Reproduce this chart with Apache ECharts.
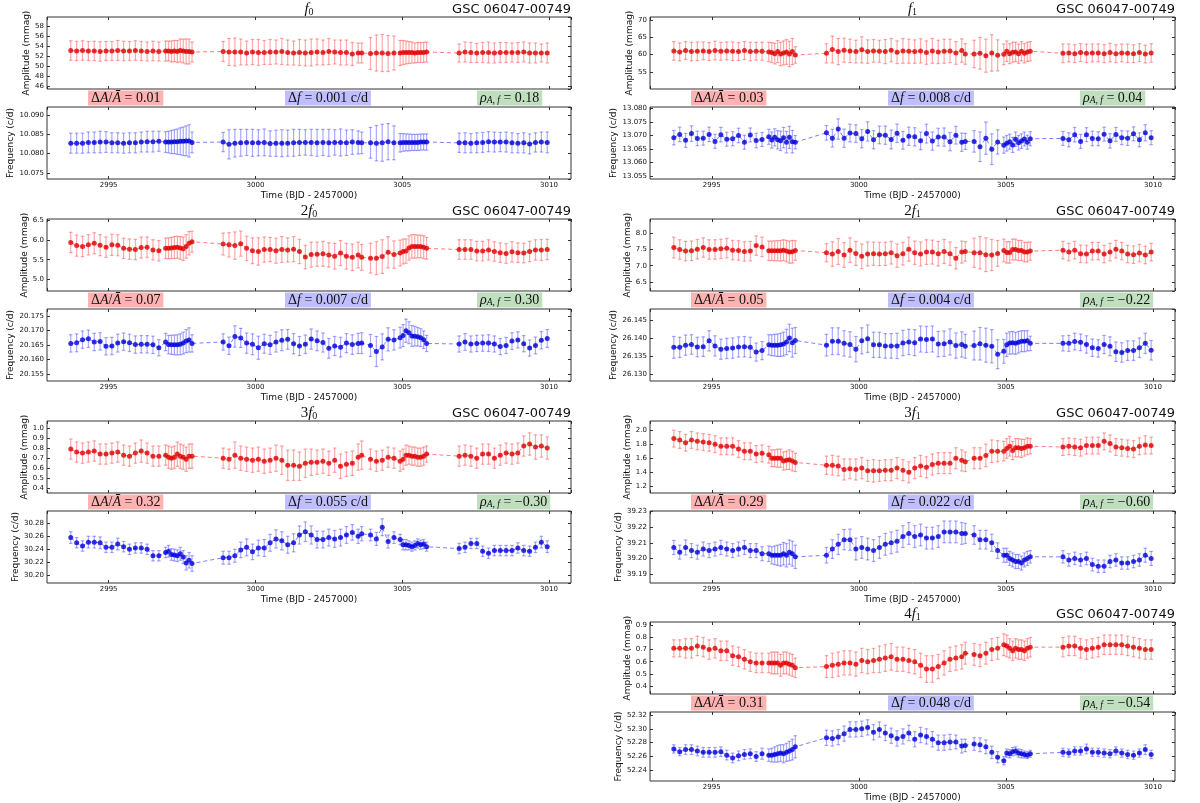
<!DOCTYPE html>
<html>
<head>
<meta charset="utf-8">
<script src="https://cdn.jsdelivr.net/npm/echarts@6/dist/echarts.min.js"></script>
<style>
  html, body { margin: 0; padding: 0; background: #fff; }
  #chart { width: 1200px; height: 803px; }
</style>
</head>
<body>
<div id="chart"></div>
<script>
// sample times (BJD - 2457000), shared by every harmonic
var times = [
  2993.71, 2993.91, 2994.11, 2994.31, 2994.51, 2994.71, 2994.91, 2995.11, 2995.31, 2995.51, 2995.71, 2995.91, 2996.11, 2996.31, 2996.51, 2996.71,
  2996.94, 2997.04, 2997.14, 2997.24, 2997.34, 2997.44, 2997.54, 2997.64, 2997.74, 2997.84,
  2998.90, 2999.10, 2999.30, 2999.50, 2999.70, 2999.90, 3000.10, 3000.30, 3000.50, 3000.70, 3000.90, 3001.10, 3001.30, 3001.50, 3001.70, 3001.90, 3002.10, 3002.30, 3002.50, 3002.70, 3002.90, 3003.10, 3003.30, 3003.50,
  3003.62,
  3003.92, 3004.12, 3004.32, 3004.52, 3004.72,
  3004.93, 3005.03, 3005.13, 3005.23, 3005.33, 3005.43, 3005.53, 3005.63, 3005.73, 3005.83,
  3006.94, 3007.14, 3007.34, 3007.54, 3007.74, 3007.94, 3008.14, 3008.34, 3008.54, 3008.74, 3008.94, 3009.14, 3009.34, 3009.54, 3009.74, 3009.94
];

// f0
var f0Amp = [
  53.1, 53.0, 53.1, 53.0, 53.0, 52.9, 53.0, 53.0, 53.1, 53.0, 53.0, 53.1, 53.0, 52.9, 53.0, 52.9,
  53.0, 53.0, 52.9, 53.0, 52.9, 53.1, 53.0, 52.9, 52.9, 52.8,
  52.9, 52.8, 52.8, 52.8, 52.6, 52.8, 52.7, 52.7, 52.8, 52.8, 52.9, 52.7, 52.6, 52.7, 52.6, 52.7, 52.8, 52.7, 52.9, 52.8, 52.7, 52.7, 52.4, 52.6,
  52.6,
  52.5, 52.6, 52.6, 52.5, 52.6,
  52.6, 52.7, 52.7, 52.7, 52.7, 52.6, 52.7, 52.7, 52.7, 52.8,
  52.6, 52.8, 52.7, 52.6, 52.7, 52.7, 52.6, 52.7, 52.7, 52.7, 52.7, 52.8, 52.6, 52.6, 52.6, 52.6
];
var f0AmpErr = [
  1.95, 1.9, 1.95, 1.9, 1.95, 1.95, 1.9, 1.9, 2.0, 1.95, 1.9, 1.95, 1.9, 1.9, 1.95, 1.9,
  2.0, 2.0, 2.1, 2.1, 2.2, 2.3, 2.4, 2.5, 2.5, 2.0,
  2.0, 2.7, 2.8, 2.6, 2.4, 2.5, 2.6, 2.4, 2.5, 2.4, 2.6, 2.5, 2.4, 2.6, 2.6, 2.7, 2.6, 2.5, 2.6, 2.4, 2.5, 2.5, 2.3, 2.0,
  2.0,
  3.2, 3.6, 3.7, 3.6, 3.4,
  2.5, 2.4, 2.3, 2.2, 2.1, 2.0, 2.0, 2.0, 2.0, 2.0,
  1.8, 2.0, 2.0, 1.9, 2.0, 2.1, 2.0, 2.0, 2.0, 1.9, 2.0, 2.0, 2.0, 2.0, 1.8, 2.0
];
var f0Freq = [
  10.0827, 10.0827, 10.0827, 10.0829, 10.0829, 10.0830, 10.0830, 10.0828, 10.0828, 10.0827, 10.0828, 10.0828, 10.0830, 10.0831, 10.0831, 10.0832,
  10.0830, 10.0830, 10.0830, 10.0831, 10.0831, 10.0832, 10.0832, 10.0833, 10.0833, 10.0829,
  10.0830, 10.0824, 10.0827, 10.0828, 10.0829, 10.0828, 10.0828, 10.0829, 10.0826, 10.0827, 10.0827, 10.0827, 10.0828, 10.0829, 10.0829, 10.0829, 10.0828, 10.0829, 10.0828, 10.0829, 10.0829, 10.0828, 10.0830, 10.0829,
  10.0828,
  10.0828, 10.0827, 10.0828, 10.0831, 10.0828,
  10.0828, 10.0829, 10.0829, 10.0829, 10.0829, 10.0829, 10.0829, 10.0830, 10.0830, 10.0830,
  10.0828, 10.0828, 10.0827, 10.0828, 10.0829, 10.0831, 10.0830, 10.0830, 10.0830, 10.0828, 10.0827, 10.0828, 10.0825, 10.0829, 10.0830, 10.0829
];
var f0FreqErr = [
  0.0026, 0.0026, 0.0026, 0.0027, 0.0027, 0.0028, 0.0027, 0.0026, 0.0026, 0.0026, 0.0026, 0.0026, 0.0026, 0.0027, 0.0027, 0.0026,
  0.0027, 0.0028, 0.0030, 0.0031, 0.0033, 0.0035, 0.0037, 0.0039, 0.0042, 0.0027,
  0.0025, 0.0038, 0.0036, 0.0035, 0.0034, 0.0035, 0.0034, 0.0035, 0.0033, 0.0034, 0.0035, 0.0034, 0.0035, 0.0034, 0.0033, 0.0034, 0.0035, 0.0034, 0.0035, 0.0033, 0.0035, 0.0033, 0.0032, 0.0030,
  0.0028,
  0.0040, 0.0046, 0.0048, 0.0047, 0.0044,
  0.0024, 0.0023, 0.0022, 0.0022, 0.0021, 0.0021, 0.0021, 0.0021, 0.0021, 0.0021,
  0.0025, 0.0026, 0.0025, 0.0026, 0.0026, 0.0026, 0.0026, 0.0025, 0.0026, 0.0026, 0.0025, 0.0026, 0.0026, 0.0025, 0.0026, 0.0027
];

// 2f0
var h2f0Amp = [
  5.94, 5.86, 5.84, 5.88, 5.92, 5.87, 5.82, 5.88, 5.87, 5.79, 5.77, 5.76, 5.81, 5.82, 5.75, 5.73,
  5.79, 5.79, 5.80, 5.81, 5.82, 5.80, 5.78, 5.84, 5.92, 5.96,
  5.90, 5.88, 5.86, 5.91, 5.79, 5.73, 5.71, 5.76, 5.76, 5.73, 5.76, 5.75, 5.77, 5.71, 5.57, 5.63, 5.64, 5.65, 5.62, 5.59, 5.67, 5.59, 5.56, 5.62,
  5.56,
  5.54, 5.54, 5.58, 5.69, 5.63,
  5.67, 5.71, 5.72, 5.80, 5.84, 5.84, 5.84, 5.84, 5.82, 5.79,
  5.76, 5.76, 5.76, 5.72, 5.72, 5.75, 5.71, 5.68, 5.66, 5.70, 5.68, 5.67, 5.71, 5.75, 5.75, 5.76
];
var h2f0AmpErr = [
  0.26, 0.27, 0.26, 0.26, 0.27, 0.27, 0.26, 0.27, 0.27, 0.26, 0.26, 0.26, 0.27, 0.26, 0.26, 0.26,
  0.26, 0.27, 0.27, 0.28, 0.28, 0.29, 0.30, 0.30, 0.30, 0.27,
  0.28, 0.31, 0.35, 0.32, 0.31, 0.33, 0.35, 0.32, 0.31, 0.32, 0.33, 0.31, 0.32, 0.31, 0.30, 0.32, 0.31, 0.32, 0.31, 0.33, 0.32, 0.33, 0.34, 0.33,
  0.33,
  0.38, 0.42, 0.43, 0.40, 0.35,
  0.33, 0.32, 0.31, 0.31, 0.30, 0.30, 0.29, 0.29, 0.29, 0.28,
  0.25, 0.25, 0.25, 0.25, 0.25, 0.26, 0.25, 0.25, 0.25, 0.26, 0.25, 0.25, 0.26, 0.26, 0.27, 0.26
];
var h2f0Freq = [
  20.1655, 20.1657, 20.1668, 20.1671, 20.1660, 20.1662, 20.1645, 20.1646, 20.1656, 20.1661, 20.1657, 20.1651, 20.1652, 20.1652, 20.1650, 20.1640,
  20.1660, 20.1651, 20.1650, 20.1650, 20.1650, 20.1652, 20.1656, 20.1663, 20.1667, 20.1655,
  20.1660, 20.1647, 20.1679, 20.1674, 20.1656, 20.1652, 20.1640, 20.1654, 20.1650, 20.1660, 20.1666, 20.1669, 20.1654, 20.1646, 20.1652, 20.1670, 20.1664, 20.1658, 20.1638, 20.1646, 20.1642, 20.1656, 20.1651, 20.1655,
  20.1656,
  20.1648, 20.1627, 20.1643, 20.1669, 20.1667,
  20.1675, 20.1682, 20.1699, 20.1692, 20.1681, 20.1680, 20.1678, 20.1675, 20.1668, 20.1655,
  20.1653, 20.1660, 20.1653, 20.1655, 20.1656, 20.1656, 20.1653, 20.1644, 20.1648, 20.1663, 20.1667, 20.1654, 20.1639, 20.1648, 20.1666, 20.1672
];
var h2f0FreqErr = [
  0.0030, 0.0031, 0.0030, 0.0030, 0.0030, 0.0030, 0.0030, 0.0030, 0.0031, 0.0030, 0.0030, 0.0030, 0.0030, 0.0030, 0.0030, 0.0028,
  0.0030, 0.0032, 0.0033, 0.0034, 0.0035, 0.0036, 0.0038, 0.0040, 0.0042, 0.0030,
  0.0028, 0.0030, 0.0037, 0.0033, 0.0035, 0.0036, 0.0040, 0.0033, 0.0033, 0.0035, 0.0036, 0.0034, 0.0035, 0.0033, 0.0032, 0.0035, 0.0034, 0.0033, 0.0034, 0.0033, 0.0034, 0.0033, 0.0034, 0.0035,
  0.0036,
  0.0038, 0.0052, 0.0045, 0.0040, 0.0035,
  0.0036, 0.0038, 0.0040, 0.0038, 0.0036, 0.0034, 0.0032, 0.0031, 0.0030, 0.0028,
  0.0028, 0.0029, 0.0028, 0.0028, 0.0028, 0.0029, 0.0028, 0.0028, 0.0028, 0.0029, 0.0028, 0.0028, 0.0028, 0.0029, 0.0030, 0.0031
];

// 3f0
var h3f0Amp = [
  0.79, 0.76, 0.75, 0.76, 0.77, 0.74, 0.74, 0.75, 0.76, 0.73, 0.72, 0.75, 0.77, 0.75, 0.72, 0.72,
  0.73, 0.71, 0.70, 0.71, 0.74, 0.72, 0.71, 0.69, 0.72, 0.72,
  0.70, 0.69, 0.73, 0.70, 0.69, 0.68, 0.69, 0.67, 0.68, 0.70, 0.68, 0.63, 0.63, 0.62, 0.65, 0.66, 0.66, 0.67, 0.65, 0.68, 0.62, 0.64, 0.65, 0.71,
  0.73,
  0.69, 0.67, 0.68, 0.71, 0.70,
  0.67, 0.69, 0.73, 0.73, 0.72, 0.72, 0.71, 0.71, 0.72, 0.74,
  0.72, 0.73, 0.72, 0.70, 0.74, 0.74, 0.70, 0.73, 0.75, 0.74, 0.75, 0.82, 0.84, 0.81, 0.82, 0.80
];
var h3f0AmpErr = [
  0.10, 0.10, 0.10, 0.10, 0.10, 0.10, 0.10, 0.10, 0.10, 0.10, 0.10, 0.10, 0.11, 0.10, 0.10, 0.10,
  0.10, 0.11, 0.11, 0.11, 0.12, 0.12, 0.12, 0.12, 0.12, 0.12,
  0.10, 0.10, 0.13, 0.12, 0.12, 0.12, 0.12, 0.12, 0.12, 0.13, 0.14, 0.15, 0.15, 0.14, 0.14, 0.13, 0.12, 0.12, 0.12, 0.12, 0.12, 0.12, 0.12, 0.13,
  0.14,
  0.10, 0.10, 0.10, 0.10, 0.10,
  0.10, 0.10, 0.10, 0.09, 0.09, 0.09, 0.09, 0.09, 0.09, 0.08,
  0.10, 0.10, 0.10, 0.10, 0.10, 0.10, 0.10, 0.10, 0.10, 0.10, 0.10, 0.10, 0.11, 0.12, 0.11, 0.11
];
var h3f0Freq = [
  30.258, 30.250, 30.245, 30.251, 30.251, 30.250, 30.243, 30.243, 30.248, 30.244, 30.240, 30.242, 30.242, 30.240, 30.230, 30.230,
  30.235, 30.237, 30.232, 30.231, 30.230, 30.233, 30.228, 30.219, 30.223, 30.218,
  30.227, 30.227, 30.230, 30.239, 30.243, 30.236, 30.242, 30.242, 30.250, 30.256, 30.253, 30.247, 30.250, 30.262, 30.267, 30.262, 30.255, 30.255, 30.258, 30.256, 30.258, 30.262, 30.266, 30.260,
  30.264,
  30.262, 30.256, 30.274, 30.252, 30.258,
  30.255, 30.247, 30.247, 30.246, 30.244, 30.246, 30.249, 30.247, 30.248, 30.244,
  30.241, 30.243, 30.249, 30.249, 30.237, 30.234, 30.238, 30.238, 30.238, 30.238, 30.242, 30.238, 30.237, 30.243, 30.251, 30.244
];
var h3f0FreqErr = [
  0.009, 0.008, 0.008, 0.009, 0.009, 0.009, 0.008, 0.008, 0.009, 0.008, 0.008, 0.008, 0.008, 0.008, 0.008, 0.008,
  0.008, 0.009, 0.009, 0.009, 0.009, 0.010, 0.010, 0.011, 0.012, 0.012,
  0.010, 0.010, 0.010, 0.012, 0.013, 0.012, 0.012, 0.013, 0.013, 0.014, 0.014, 0.013, 0.014, 0.014, 0.015, 0.014, 0.013, 0.013, 0.013, 0.013, 0.013, 0.013, 0.012, 0.011,
  0.011,
  0.009, 0.010, 0.013, 0.010, 0.009,
  0.008, 0.008, 0.008, 0.007, 0.007, 0.007, 0.007, 0.007, 0.007, 0.007,
  0.008, 0.008, 0.008, 0.008, 0.008, 0.008, 0.008, 0.008, 0.008, 0.008, 0.008, 0.008, 0.008, 0.008, 0.009, 0.009
];

// f1
var f1Amp = [
  61.1, 60.8, 61.2, 60.9, 61.0, 61.1, 60.9, 61.2, 61.0, 61.1, 61.0, 60.9, 61.2, 60.9, 61.0, 61.0,
  60.8, 60.6, 60.3, 60.9, 60.2, 60.5, 60.8, 60.2, 60.9, 59.9,
  60.4, 61.5, 60.9, 61.3, 61.1, 60.9, 61.4, 60.9, 61.1, 61.0, 60.9, 61.3, 60.7, 61.1, 61.0, 60.9, 61.1, 60.6, 61.1, 60.8, 61.0, 61.1, 60.5, 61.2,
  60.2,
  60.2, 60.4, 59.7, 60.5, 59.8,
  60.1, 61.0, 60.3, 60.7, 60.8, 60.3, 61.0, 60.4, 60.8, 61.0,
  60.4, 60.5, 60.3, 60.6, 60.4, 60.5, 60.5, 60.3, 60.6, 60.3, 60.5, 60.4, 60.3, 60.6, 60.2, 60.5
];
var f1AmpErr = [
  2.7, 2.6, 2.6, 2.7, 2.7, 2.6, 2.6, 2.7, 2.6, 2.6, 2.7, 2.6, 2.6, 2.7, 2.6, 2.6,
  2.8, 2.9, 3.0, 3.2, 3.4, 3.5, 3.6, 3.7, 3.8, 2.4,
  2.8, 3.9, 3.8, 3.5, 3.4, 3.3, 3.8, 3.4, 3.3, 3.2, 3.5, 3.4, 3.3, 3.6, 3.5, 3.4, 3.5, 3.4, 3.6, 3.4, 3.5, 3.4, 3.3, 3.4,
  3.0,
  4.0, 4.6, 4.8, 5.3, 4.5,
  3.0, 3.0, 2.9, 2.9, 2.8, 2.8, 2.8, 2.8, 2.8, 2.8,
  2.7, 2.6, 2.6, 2.6, 2.7, 2.6, 2.6, 2.6, 2.7, 2.6, 2.6, 2.7, 2.6, 2.6, 2.6, 2.7
];
var f1Freq = [
  13.0692, 13.0704, 13.0682, 13.0707, 13.0689, 13.0690, 13.0704, 13.0678, 13.0703, 13.0686, 13.0688, 13.0700, 13.0675, 13.0702, 13.0681, 13.0685,
  13.0695, 13.0683, 13.0693, 13.0684, 13.0680, 13.0692, 13.0675, 13.0693, 13.0677, 13.0675,
  13.0710, 13.0690, 13.0724, 13.0690, 13.0709, 13.0707, 13.0688, 13.0715, 13.0684, 13.0702, 13.0701, 13.0685, 13.0708, 13.0682, 13.0697, 13.0695, 13.0680, 13.0707, 13.0679, 13.0694, 13.0694, 13.0677, 13.0701, 13.0675,
  13.0678,
  13.0678, 13.0658, 13.0690, 13.0649, 13.0676,
  13.0664, 13.0671, 13.0677, 13.0665, 13.0686, 13.0673, 13.0679, 13.0687, 13.0675, 13.0688,
  13.0689, 13.0684, 13.0703, 13.0678, 13.0703, 13.0689, 13.0688, 13.0705, 13.0680, 13.0704, 13.0692, 13.0690, 13.0706, 13.0684, 13.0710, 13.0692
];
var f1FreqErr = [
  0.0027, 0.0027, 0.0026, 0.0029, 0.0027, 0.0026, 0.0027, 0.0026, 0.0027, 0.0026, 0.0026, 0.0027, 0.0026, 0.0026, 0.0027, 0.0026,
  0.0028, 0.0030, 0.0032, 0.0034, 0.0036, 0.0038, 0.0040, 0.0041, 0.0042, 0.0025,
  0.0027, 0.0033, 0.0038, 0.0034, 0.0033, 0.0033, 0.0034, 0.0036, 0.0034, 0.0033, 0.0034, 0.0035, 0.0034, 0.0033, 0.0034, 0.0034, 0.0033, 0.0035, 0.0034, 0.0033, 0.0034, 0.0034, 0.0033, 0.0034,
  0.0030,
  0.0040, 0.0055, 0.0060, 0.0057, 0.0045,
  0.0030, 0.0029, 0.0028, 0.0028, 0.0027, 0.0027, 0.0027, 0.0026, 0.0026, 0.0026,
  0.0026, 0.0026, 0.0027, 0.0026, 0.0026, 0.0027, 0.0026, 0.0026, 0.0027, 0.0026, 0.0026, 0.0027, 0.0026, 0.0026, 0.0030, 0.0026
];

// 2f1
var h2f1Amp = [
  7.56, 7.50, 7.45, 7.46, 7.51, 7.56, 7.50, 7.50, 7.52, 7.54, 7.48, 7.47, 7.44, 7.45, 7.62, 7.58,
  7.46, 7.46, 7.46, 7.46, 7.46, 7.48, 7.45, 7.42, 7.43, 7.47,
  7.40, 7.36, 7.44, 7.33, 7.48, 7.38, 7.29, 7.36, 7.37, 7.36, 7.37, 7.40, 7.31, 7.37, 7.51, 7.40, 7.36, 7.42, 7.42, 7.37, 7.44, 7.37, 7.23, 7.42,
  7.44,
  7.40, 7.40, 7.34, 7.33, 7.38,
  7.47, 7.41, 7.41, 7.50, 7.50, 7.47, 7.47, 7.42, 7.42, 7.45,
  7.48, 7.42, 7.48, 7.37, 7.36, 7.45, 7.45, 7.36, 7.42, 7.51, 7.45, 7.36, 7.34, 7.39, 7.33, 7.42
];
var h2f1AmpErr = [
  0.32, 0.30, 0.30, 0.30, 0.30, 0.30, 0.30, 0.30, 0.30, 0.30, 0.30, 0.30, 0.30, 0.30, 0.30, 0.30,
  0.30, 0.30, 0.31, 0.31, 0.32, 0.32, 0.33, 0.34, 0.35, 0.30,
  0.28, 0.38, 0.40, 0.38, 0.38, 0.37, 0.38, 0.37, 0.36, 0.36, 0.36, 0.35, 0.36, 0.35, 0.37, 0.36, 0.37, 0.38, 0.37, 0.38, 0.37, 0.36, 0.33, 0.34,
  0.30,
  0.45, 0.50, 0.52, 0.48, 0.40,
  0.35, 0.33, 0.33, 0.32, 0.32, 0.31, 0.31, 0.30, 0.30, 0.28,
  0.27, 0.27, 0.27, 0.27, 0.27, 0.27, 0.27, 0.27, 0.27, 0.27, 0.27, 0.27, 0.27, 0.27, 0.27, 0.27
];
var h2f1Freq = [
  26.1375, 26.1375, 26.1381, 26.1383, 26.1376, 26.1377, 26.1393, 26.1379, 26.1370, 26.1372, 26.1373, 26.1376, 26.1377, 26.1375, 26.1362, 26.1366,
  26.1382, 26.1381, 26.1381, 26.1381, 26.1382, 26.1384, 26.1390, 26.1401, 26.1388, 26.1394,
  26.1381, 26.1392, 26.1392, 26.1386, 26.1383, 26.1370, 26.1393, 26.1399, 26.1382, 26.1382, 26.1379, 26.1379, 26.1379, 26.1387, 26.1390, 26.1388, 26.1398, 26.1397, 26.1398, 26.1384, 26.1385, 26.1390, 26.1380, 26.1383,
  26.1378,
  26.1380, 26.1385, 26.1381, 26.1378, 26.1356,
  26.1364, 26.1382, 26.1387, 26.1388, 26.1386, 26.1389, 26.1392, 26.1392, 26.1393, 26.1386,
  26.1386, 26.1386, 26.1391, 26.1389, 26.1383, 26.1374, 26.1372, 26.1383, 26.1378, 26.1363, 26.1361, 26.1366, 26.1366, 26.1374, 26.1386, 26.1367
];
var h2f1FreqErr = [
  0.0030, 0.0028, 0.0028, 0.0027, 0.0027, 0.0027, 0.0028, 0.0028, 0.0028, 0.0028, 0.0028, 0.0028, 0.0028, 0.0028, 0.0025, 0.0025,
  0.0028, 0.0029, 0.0030, 0.0031, 0.0032, 0.0033, 0.0035, 0.0038, 0.0040, 0.0036,
  0.0030, 0.0037, 0.0037, 0.0035, 0.0035, 0.0035, 0.0036, 0.0038, 0.0035, 0.0035, 0.0034, 0.0034, 0.0035, 0.0035, 0.0035, 0.0036, 0.0036, 0.0036, 0.0036, 0.0035, 0.0035, 0.0036, 0.0035, 0.0035,
  0.0033,
  0.0040, 0.0045, 0.0047, 0.0046, 0.0040,
  0.0033, 0.0032, 0.0031, 0.0031, 0.0030, 0.0030, 0.0029, 0.0029, 0.0028, 0.0020,
  0.0021, 0.0022, 0.0023, 0.0023, 0.0024, 0.0024, 0.0024, 0.0025, 0.0026, 0.0027, 0.0027, 0.0027, 0.0027, 0.0027, 0.0028, 0.0027
];

// 3f1
var h3f1Amp = [
  1.88, 1.86, 1.82, 1.86, 1.84, 1.83, 1.82, 1.80, 1.77, 1.77, 1.77, 1.73, 1.70, 1.70, 1.66, 1.67,
  1.65, 1.60, 1.60, 1.60, 1.60, 1.56, 1.57, 1.58, 1.56, 1.54,
  1.50, 1.50, 1.49, 1.44, 1.45, 1.44, 1.46, 1.42, 1.42, 1.42, 1.43, 1.43, 1.46, 1.43, 1.40, 1.46, 1.49, 1.47, 1.51, 1.53, 1.53, 1.53, 1.60, 1.57,
  1.55,
  1.60, 1.60, 1.64, 1.70, 1.70,
  1.70, 1.74, 1.77, 1.71, 1.75, 1.75, 1.74, 1.75, 1.77, 1.77,
  1.76, 1.77, 1.76, 1.75, 1.78, 1.78, 1.78, 1.84, 1.81, 1.76, 1.75, 1.74, 1.73, 1.77, 1.79, 1.78
];
var h3f1AmpErr = [
  0.12, 0.12, 0.12, 0.12, 0.12, 0.12, 0.12, 0.12, 0.12, 0.12, 0.12, 0.12, 0.12, 0.12, 0.12, 0.12,
  0.12, 0.12, 0.12, 0.13, 0.13, 0.13, 0.13, 0.14, 0.14, 0.13,
  0.13, 0.14, 0.14, 0.15, 0.14, 0.15, 0.15, 0.15, 0.16, 0.15, 0.15, 0.15, 0.15, 0.15, 0.15, 0.15, 0.15, 0.15, 0.15, 0.15, 0.15, 0.15, 0.15, 0.15,
  0.14,
  0.15, 0.15, 0.16, 0.16, 0.15,
  0.14, 0.14, 0.14, 0.13, 0.13, 0.13, 0.13, 0.12, 0.12, 0.11,
  0.12, 0.12, 0.12, 0.12, 0.12, 0.12, 0.12, 0.12, 0.12, 0.12, 0.12, 0.12, 0.12, 0.12, 0.13, 0.12
];
var h3f1Freq = [
  39.207, 39.204, 39.207, 39.205, 39.204, 39.206, 39.205, 39.206, 39.207, 39.206, 39.205, 39.206, 39.207, 39.205, 39.205, 39.203,
  39.203, 39.202, 39.202, 39.202, 39.202, 39.203, 39.202, 39.204, 39.203, 39.201,
  39.202, 39.206, 39.209, 39.212, 39.212, 39.206, 39.207, 39.206, 39.205, 39.207, 39.209, 39.210, 39.211, 39.214, 39.216, 39.214, 39.215, 39.213, 39.213, 39.214, 39.217, 39.217, 39.217, 39.216,
  39.216,
  39.215, 39.212, 39.212, 39.210, 39.205,
  39.202, 39.202, 39.200, 39.199, 39.198, 39.198, 39.197, 39.199, 39.200, 39.201,
  39.201, 39.199, 39.200, 39.199, 39.200, 39.196, 39.195, 39.195, 39.198, 39.199, 39.197, 39.197, 39.198, 39.199, 39.202, 39.200
];
var h3f1FreqErr = [
  0.0045, 0.0045, 0.0048, 0.0045, 0.0045, 0.0045, 0.0045, 0.0045, 0.0045, 0.0045, 0.0045, 0.0045, 0.0045, 0.0045, 0.0045, 0.0045,
  0.0050, 0.0055, 0.0060, 0.0065, 0.0070, 0.0072, 0.0075, 0.0078, 0.0080, 0.0075,
  0.0050, 0.0060, 0.0065, 0.0065, 0.0068, 0.0070, 0.0070, 0.0070, 0.0070, 0.0070, 0.0070, 0.0070, 0.0070, 0.0070, 0.0070, 0.0070, 0.0070, 0.0070, 0.0070, 0.0070, 0.0070, 0.0070, 0.0070, 0.0070,
  0.0065,
  0.0060, 0.0060, 0.0060, 0.0055, 0.0050,
  0.0045, 0.0045, 0.0045, 0.0045, 0.0045, 0.0045, 0.0045, 0.0045, 0.0045, 0.0040,
  0.0040, 0.0040, 0.0040, 0.0040, 0.0040, 0.0040, 0.0040, 0.0040, 0.0040, 0.0040, 0.0040, 0.0040, 0.0040, 0.0040, 0.0045, 0.0045
];

// 4f1
var h4f1Amp = [
  0.71, 0.71, 0.71, 0.71, 0.73, 0.72, 0.70, 0.71, 0.69, 0.69, 0.65, 0.64, 0.62, 0.60, 0.59, 0.59,
  0.59, 0.59, 0.59, 0.59, 0.57, 0.59, 0.59, 0.58, 0.57, 0.55,
  0.56, 0.57, 0.58, 0.59, 0.59, 0.58, 0.61, 0.60, 0.61, 0.62, 0.63, 0.64, 0.62, 0.62, 0.61, 0.60, 0.57, 0.54, 0.54, 0.56, 0.59, 0.62, 0.63, 0.64,
  0.67,
  0.66, 0.65, 0.67, 0.70, 0.71,
  0.74, 0.73, 0.71, 0.69, 0.71, 0.70, 0.70, 0.69, 0.71, 0.72,
  0.72, 0.73, 0.73, 0.71, 0.70, 0.71, 0.72, 0.74, 0.74, 0.74, 0.74, 0.73, 0.72, 0.71, 0.70, 0.70
];
var h4f1AmpErr = [
  0.07, 0.07, 0.08, 0.08, 0.08, 0.08, 0.08, 0.08, 0.08, 0.08, 0.08, 0.08, 0.08, 0.08, 0.08, 0.08,
  0.08, 0.09, 0.09, 0.09, 0.09, 0.09, 0.09, 0.09, 0.09, 0.08,
  0.09, 0.10, 0.10, 0.10, 0.10, 0.10, 0.10, 0.10, 0.10, 0.11, 0.11, 0.11, 0.10, 0.10, 0.10, 0.10, 0.10, 0.11, 0.11, 0.10, 0.10, 0.10, 0.10, 0.10,
  0.09,
  0.09, 0.09, 0.09, 0.09, 0.09,
  0.09, 0.09, 0.08, 0.08, 0.08, 0.08, 0.08, 0.08, 0.08, 0.08,
  0.08, 0.08, 0.08, 0.08, 0.08, 0.08, 0.08, 0.08, 0.08, 0.08, 0.08, 0.08, 0.08, 0.08, 0.08, 0.08
];
var h4f1Freq = [
  52.271, 52.267, 52.270, 52.270, 52.268, 52.266, 52.266, 52.266, 52.267, 52.262, 52.258, 52.261, 52.263, 52.264, 52.260, 52.264,
  52.262, 52.262, 52.263, 52.264, 52.265, 52.264, 52.266, 52.268, 52.270, 52.274,
  52.287, 52.286, 52.288, 52.293, 52.299, 52.299, 52.300, 52.302, 52.295, 52.299, 52.294, 52.290, 52.286, 52.289, 52.294, 52.285, 52.291, 52.289, 52.285, 52.280, 52.280, 52.281, 52.281, 52.275,
  52.276,
  52.278, 52.277, 52.274, 52.266, 52.259,
  52.254, 52.265, 52.264, 52.267, 52.268, 52.265, 52.264, 52.263, 52.262, 52.264,
  52.266, 52.265, 52.268, 52.268, 52.271, 52.266, 52.266, 52.265, 52.264, 52.268, 52.265, 52.263, 52.262, 52.265, 52.270, 52.263
];
var h4f1FreqErr = [
  0.006, 0.006, 0.007, 0.007, 0.007, 0.007, 0.007, 0.007, 0.007, 0.007, 0.007, 0.007, 0.007, 0.007, 0.007, 0.008,
  0.009, 0.010, 0.011, 0.012, 0.012, 0.013, 0.013, 0.014, 0.015, 0.016,
  0.011, 0.011, 0.011, 0.011, 0.011, 0.011, 0.011, 0.011, 0.011, 0.011, 0.011, 0.011, 0.011, 0.011, 0.011, 0.011, 0.011, 0.011, 0.011, 0.011, 0.011, 0.011, 0.010, 0.010,
  0.009,
  0.009, 0.010, 0.010, 0.009, 0.008,
  0.006, 0.006, 0.006, 0.006, 0.006, 0.006, 0.006, 0.005, 0.005, 0.005,
  0.006, 0.006, 0.006, 0.006, 0.007, 0.006, 0.006, 0.006, 0.006, 0.006, 0.006, 0.006, 0.006, 0.006, 0.007, 0.006
];

// annotations per harmonic: f0, 2f0, 3f0, f1, 2f1, 3f1, 4f1
var harmonicOrder = ['', '2', '3', '', '2', '3', '4'];
var harmonicBase = ['0', '0', '0', '1', '1', '1', '1'];
var relAmpChange = ['0.01', '0.07', '0.32', '0.03', '0.05', '0.29', '0.31'];
var freqChange = ['0.001', '0.007', '0.055', '0.008', '0.004', '0.022', '0.048'];
var corrAF = ['0.18', '0.30', '\u22120.30', '0.04', '\u22120.22', '\u22120.60', '\u22120.54'];
var starName = 'GSC 06047-00749';

// layout
var colLeft = [47, 650], colWidth = [524, 525];
var rowTop = [17, 219, 421, 622];
var serif = 'Liberation Serif', sans = 'DejaVu Sans';

// axis settings: [min, max, splitNumber, decimals, nameGap]
var panels = [
  { col: 0, row: 0, amp: f0Amp, ampErr: f0AmpErr, freq: f0Freq, freqErr: f0FreqErr,
    ampAxis: [45.4, 59.8, 7, 0, 14], freqAxis: [10.0734, 10.0921, 4, 3, 28] },
  { col: 0, row: 1, amp: h2f0Amp, ampErr: h2f0AmpErr, freq: h2f0Freq, freqErr: h2f0FreqErr,
    ampAxis: [4.70, 6.54, 4, 1, 16], freqAxis: [20.1525, 20.1774, 5, 3, 28] },
  { col: 0, row: 2, amp: h3f0Amp, ampErr: h3f0AmpErr, freq: h3f0Freq, freqErr: h3f0FreqErr,
    ampAxis: [0.356, 1.067, 7, 1, 16], freqAxis: [30.188, 30.299, 5, 2, 25] },
  { col: 1, row: 0, amp: f1Amp, ampErr: f1AmpErr, freq: f1Freq, freqErr: f1FreqErr,
    ampAxis: [50.03, 70.94, 4, 0, 14], freqAxis: [13.0538, 13.0806, 5, 3, 28] },
  { col: 1, row: 1, amp: h2f1Amp, ampErr: h2f1AmpErr, freq: h2f1Freq, freqErr: h2f1FreqErr,
    ampAxis: [6.22, 8.44, 4, 1, 16], freqAxis: [26.1282, 26.1481, 4, 3, 28] },
  { col: 1, row: 2, amp: h3f1Amp, ampErr: h3f1AmpErr, freq: h3f1Freq, freqErr: h3f1FreqErr,
    ampAxis: [1.105, 2.13, 5, 1, 16], freqAxis: [39.1842, 39.2304, 5, 2, 25] },
  { col: 1, row: 3, amp: h4f1Amp, ampErr: h4f1AmpErr, freq: h4f1Freq, freqErr: h4f1FreqErr,
    ampAxis: [0.334, 0.927, 6, 1, 16], freqAxis: [52.2247, 52.3242, 5, 2, 25] }
];

function errorBars(color) {
  return function (params, api) {
    var x = api.value(0), y = api.value(1), e = api.value(2);
    var hi = api.coord([x, y + e]), lo = api.coord([x, y - e]);
    var st = { stroke: color, lineWidth: 1.2 };
    var c = 1.8;
    return {
      type: 'group',
      children: [
        { type: 'line', shape: { x1: hi[0], y1: hi[1], x2: lo[0], y2: lo[1] }, style: st },
        { type: 'line', shape: { x1: hi[0] - c, y1: hi[1], x2: hi[0] + c, y2: hi[1] }, style: st },
        { type: 'line', shape: { x1: lo[0] - c, y1: lo[1], x2: lo[0] + c, y2: lo[1] }, style: st }
      ]
    };
  };
}

var grids = [], xAxes = [], yAxes = [], series = [], graphics = [];
var tickStyle = { inside: true, length: 3, lineStyle: { color: '#333', width: 1 } };

panels.forEach(function (p, k) {
  var left = colLeft[p.col], width = colWidth[p.col], top = rowTop[p.row];
  var kinds = [
    { vals: p.amp, errs: p.ampErr, ax: p.ampAxis, name: 'Amplitude (mmag)',
      dot: '#dd0000', bar: 'rgba(255,40,40,0.4)', line: 'rgba(255,40,40,0.6)' },
    { vals: p.freq, errs: p.freqErr, ax: p.freqAxis, name: 'Frequency (c/d)',
      dot: '#0000d8', bar: 'rgba(40,40,255,0.4)', line: 'rgba(40,40,255,0.6)' }
  ];
  kinds.forEach(function (d, j) {
    var g = grids.length;
    var isFreq = j === 1;
    grids.push({ left: left, top: top + j * 90, width: width, height: 72,
      show: true, borderColor: '#333', borderWidth: 1, backgroundColor: 'transparent' });
    ['bottom', 'top'].forEach(function (pos) {
      var main = pos === 'bottom';
      xAxes.push({
        type: 'value', gridIndex: g, position: pos, min: 2992.9, max: 3010.75, splitNumber: 4,
        axisLine: { show: false }, splitLine: { show: false }, axisTick: tickStyle,
        axisLabel: { show: main && isFreq, margin: 3, fontSize: 7, fontFamily: sans, color: '#111',
          showMinLabel: false, showMaxLabel: false, formatter: function (v) { return v.toFixed(0); } },
        name: main && isFreq ? 'Time (BJD - 2457000)' : '', nameLocation: 'middle', nameGap: 12,
        nameTextStyle: { fontSize: 9, fontFamily: sans, color: '#111' }
      });
    });
    ['left', 'right'].forEach(function (pos) {
      var main = pos === 'left';
      yAxes.push({
        type: 'value', gridIndex: g, position: pos, min: d.ax[0], max: d.ax[1], splitNumber: d.ax[2],
        axisLine: { show: false }, splitLine: { show: false }, axisTick: tickStyle,
        axisLabel: { show: main, margin: 3, fontSize: 7, fontFamily: sans, color: '#111',
          showMinLabel: false, showMaxLabel: false,
          formatter: (function (dec) { return function (v) { return v.toFixed(dec); }; })(d.ax[3]) },
        name: main ? d.name : '', nameLocation: 'middle', nameGap: d.ax[4],
        nameTextStyle: { fontSize: 9, fontFamily: sans, color: '#111' }
      });
    });
    var pts = times.map(function (t, i) { return [t, d.vals[i]]; });
    var eb = times.map(function (t, i) { return [t, d.vals[i], d.errs[i]]; });
    series.push({ type: 'line', xAxisIndex: 2 * g, yAxisIndex: 2 * g, data: pts, showSymbol: false,
      lineStyle: { color: d.line, width: 1, type: [4, 3] }, z: 1, silent: true });
    series.push({ type: 'custom', xAxisIndex: 2 * g, yAxisIndex: 2 * g, data: eb,
      encode: { x: 0, y: 1 }, renderItem: errorBars(d.bar), clip: true, z: 2, silent: true });
    series.push({ type: 'scatter', xAxisIndex: 2 * g, yAxisIndex: 2 * g, data: pts,
      symbol: 'circle', symbolSize: 5, itemStyle: { color: d.dot }, z: 3, silent: true });
  });

  // panel title and star name
  graphics.push({ type: 'text', x: left + width / 2, y: top - 8, silent: true,
    style: { text: (harmonicOrder[k] ? '{n|' + harmonicOrder[k] + '}' : '') + '{i|f}{s|' + harmonicBase[k] + '}',
      align: 'center', verticalAlign: 'middle',
      rich: {
        n: { fontFamily: serif, fontSize: 15, lineHeight: 17, fill: '#111' },
        i: { fontFamily: serif, fontStyle: 'italic', fontSize: 15, lineHeight: 17, fill: '#111' },
        s: { fontFamily: serif, fontSize: 10, lineHeight: 10, verticalAlign: 'bottom', fill: '#111' }
      } } });
  graphics.push({ type: 'text', x: left + width, y: top - 7, silent: true,
    style: { text: starName, font: '13px "DejaVu Sans"', fill: '#111', align: 'right', verticalAlign: 'middle' } });

  // statistics labels between the two plots
  var ly = top + 81;
  var labels = [
    { dx: 41, bg: 'rgba(255,0,0,0.3)', text: '{n|\u0394}{i|A}{n|/}{i|\u0100}{n| = ' + relAmpChange[k] + '}' },
    { dx: 238, bg: 'rgba(0,0,255,0.25)', text: '{n|\u0394}{i|f}{n| = ' + freqChange[k] + ' c/d}' },
    { dx: 430, bg: 'rgba(0,128,0,0.25)', text: '{i|\u03c1}{s|A, f}{n| = ' + corrAF[k] + '}' }
  ];
  labels.forEach(function (lb) {
    graphics.push({ type: 'text', x: left + lb.dx, y: ly, silent: true,
      style: { text: lb.text, align: 'left', verticalAlign: 'middle',
        backgroundColor: lb.bg, padding: [1, 3, 0, 3],
        rich: {
          n: { fontFamily: serif, fontSize: 14, lineHeight: 14, fill: '#111' },
          i: { fontFamily: serif, fontStyle: 'italic', fontSize: 14, lineHeight: 14, fill: '#111' },
          s: { fontFamily: serif, fontStyle: 'italic', fontSize: 9.5, lineHeight: 9, verticalAlign: 'bottom', fill: '#111' }
        } } });
  });
});

var chart = echarts.init(document.getElementById('chart'), null, { renderer: 'canvas' });
chart.setOption({
  animation: false,
  backgroundColor: '#fff',
  grid: grids,
  xAxis: xAxes,
  yAxis: yAxes,
  series: series,
  graphic: graphics
});
</script>
</body>
</html>
